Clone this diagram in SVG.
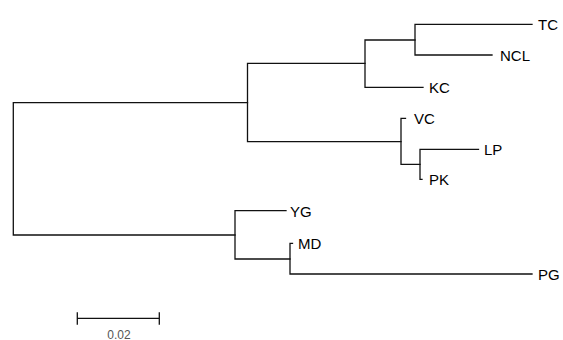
<svg xmlns="http://www.w3.org/2000/svg" width="563" height="340" viewBox="0 0 563 340">
<style>
.br{fill:none;stroke:#111;stroke-width:1.3;stroke-linecap:square}
.lb{font-family:"Liberation Sans",Arial,sans-serif;font-size:15px;fill:#000}
.sc{font-family:"Liberation Sans",Arial,sans-serif;font-size:12px;fill:#555;text-anchor:middle}
</style>
<rect width="563" height="340" fill="#fff"/>
<g id="connectors">
<path class="br" d="M247.5 102.7 H13.3 V235 H235"/>
<path class="br" d="M365 63.3 H247.5 V141.7 H401"/>
<path class="br" d="M415 40 H365 V87.3 H423"/>
<path class="br" d="M532 24.3 H415 V55 H492"/>
<path class="br" d="M405.5 118.3 H401 V164.3 H420"/>
<path class="br" d="M478.5 149.3 H420 V179.3 H422"/>
<path class="br" d="M286 210.7 H235 V259 H290"/>
<path class="br" d="M292.5 243.3 H290 V274 H532"/>
</g>
<g id="TC"><text class="lb" x="538" y="30">TC</text></g>
<g id="NCL"><text class="lb" x="500" y="61">NCL</text></g>
<g id="KC"><text class="lb" x="429" y="93">KC</text></g>
<g id="VC"><text class="lb" x="414" y="124">VC</text></g>
<g id="LP"><text class="lb" x="484" y="155">LP</text></g>
<g id="PK"><text class="lb" x="429" y="185">PK</text></g>
<g id="YG"><text class="lb" x="290" y="216.5">YG</text></g>
<g id="MD"><text class="lb" x="298" y="249">MD</text></g>
<g id="PG"><text class="lb" x="538" y="280">PG</text></g>
<g id="scale">
<path class="br" d="M77.3 318.3 H159.3 M77.3 313 V324 M159.3 313 V324"/>
<text class="sc" x="119" y="338.5">0.02</text>
</g>
</svg>
